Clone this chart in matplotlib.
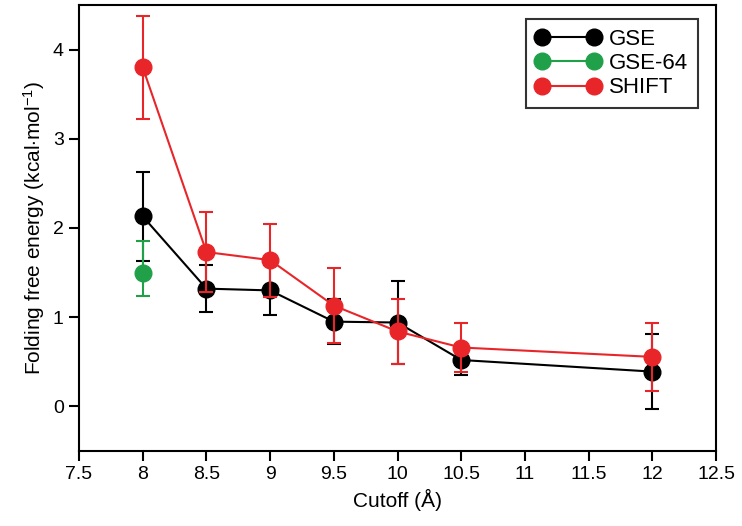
"""
Folding free energy vs cutoff
"""

import numpy as np
import matplotlib
matplotlib.use('Agg')
import matplotlib.pyplot as plt

plt.rcParams['font.family'] = ['Liberation Sans', 'DejaVu Sans']
plt.rcParams['mathtext.fontset'] = 'custom'
plt.rcParams['mathtext.rm'] = 'Liberation Sans'
plt.rcParams['mathtext.it'] = 'Liberation Sans'

cutoff = np.array([8, 8.5, 9, 9.5, 10, 10.5, 12])

gse = np.array([2.13, 1.32, 1.30, 0.95, 0.94, 0.52, 0.39])
gse_err = np.array([0.50, 0.26, 0.28, 0.25, 0.46, 0.17, 0.42])

shift = np.array([3.80, 1.73, 1.64, 1.13, 0.84, 0.66, 0.555])
shift_err = np.array([0.58, 0.45, 0.41, 0.42, 0.36, 0.27, 0.38])

gse64_x = np.array([8])
gse64 = np.array([1.50])
gse64_err = np.array([[0.26], [0.35]])

red = '#E8262A'
green = '#21A04A'

fig = plt.figure(figsize=(7.42, 5.26), dpi=100)
ax = fig.add_axes([0.1065, 0.1426, 0.8585, 0.848])

ax.errorbar(cutoff, gse, yerr=gse_err, color='k', marker='o', ms=12,
            lw=1.5, capsize=5, capthick=1.5, elinewidth=1.5, label='GSE', zorder=3)
ax.errorbar(gse64_x, gse64, yerr=gse64_err, color=green, marker='o', ms=12,
            lw=1.5, capsize=5, capthick=1.5, elinewidth=1.5, label='GSE-64', zorder=3)
ax.errorbar(cutoff, shift, yerr=shift_err, color=red, marker='o', ms=12,
            lw=1.5, capsize=5, capthick=1.5, elinewidth=1.5, label='SHIFT', zorder=4)

ax.set_xlim(7.5, 12.5)
ax.set_ylim(-0.5, 4.5)
ax.set_xticks(np.arange(7.5, 12.6, 0.5))
ax.set_xticklabels(['7.5', '8', '8.5', '9', '9.5', '10', '10.5', '11', '11.5', '12', '12.5'])
ax.set_yticks([0, 1, 2, 3, 4])
ax.tick_params(direction='out', length=7, width=1.5, labelsize=14, pad=4)
for s in ax.spines.values():
    s.set_linewidth(1.5)

ax.set_xlabel('Cutoff (Å)', fontsize=15)
ax.set_ylabel(r'Folding free energy (kcal$\cdot$mol$^{-1}$)', fontsize=15)

handles, labels = ax.get_legend_handles_labels()
handles = [h[0] for h in handles]
leg = ax.legend(handles, labels, loc='upper right', fontsize=16, handlelength=2.9,
                numpoints=2, fancybox=False, edgecolor='k', borderpad=0.45,
                labelspacing=0.15, handletextpad=0.4, borderaxespad=0,
                bbox_to_anchor=(0.972, 0.969))
leg.get_frame().set_linewidth(1.5)

fig.savefig('out.png', dpi=100)
